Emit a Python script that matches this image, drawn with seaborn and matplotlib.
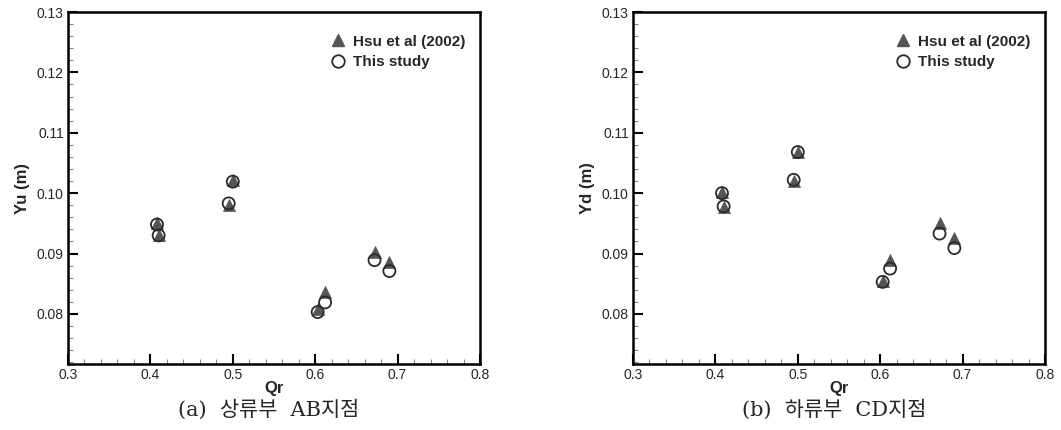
import numpy as np
import pandas as pd
import matplotlib
matplotlib.use("Agg")
import matplotlib.pyplot as plt
import seaborn as sns
from matplotlib.ticker import MultipleLocator, FormatStrFormatter
from matplotlib.lines import Line2D

# Qr values for the 8 runs
qr = [0.408, 0.410, 0.495, 0.500, 0.603, 0.612, 0.672, 0.690]

# (a) upstream AB
yu_hsu = [0.0950, 0.0930, 0.0980, 0.1022, 0.0808, 0.0837, 0.0903, 0.0886]
yu_this = [0.0948, 0.0930, 0.0983, 0.1019, 0.0803, 0.0819, 0.0889, 0.0871]

# (b) downstream CD
yd_hsu = [0.1002, 0.0977, 0.1020, 0.1068, 0.0855, 0.0890, 0.0950, 0.0925]
yd_this = [0.1000, 0.0978, 0.1022, 0.1068, 0.0853, 0.0875, 0.0933, 0.0909]

panels = [("Yu (m)", yu_hsu, yu_this, "(a)  상류부  AB지점"),
          ("Yd (m)", yd_hsu, yd_this, "(b)  하류부  CD지점")]

sns.set_style("ticks")
plt.rcParams['font.family'] = ['Liberation Sans', 'DejaVu Sans']

fig = plt.figure(figsize=(10.61, 4.30), dpi=100)
lefts = [68 / 1061, 633 / 1061]
bottom = (430 - 364) / 430
height = 352 / 430
width = 412 / 1061

tri_col = "#555555"
circ_col = "#2a2a2a"

for i, (ylab, hsu, this, cap) in enumerate(panels):
    ax = fig.add_axes([lefts[i], bottom, width, height])
    df = pd.DataFrame({"Qr": qr, "hsu": hsu, "this": this})
    sns.scatterplot(data=df, x="Qr", y="hsu", marker="^", s=75, color=tri_col,
                    edgecolor=tri_col, linewidth=0.5, ax=ax, zorder=3)
    sns.scatterplot(data=df, x="Qr", y="this", marker="o", s=75, facecolor="none",
                    edgecolor=circ_col, linewidth=1.3, ax=ax, zorder=4)
    ax.set_xlim(0.3, 0.8)
    ax.set_ylim(0.0717, 0.13)
    ax.xaxis.set_major_locator(MultipleLocator(0.1))
    ax.xaxis.set_minor_locator(MultipleLocator(0.02))
    ax.yaxis.set_major_locator(MultipleLocator(0.01))
    ax.yaxis.set_minor_locator(MultipleLocator(0.002))
    ax.xaxis.set_major_formatter(FormatStrFormatter('%.1f'))
    ax.yaxis.set_major_formatter(FormatStrFormatter('%.2f'))
    ax.set_yticks([0.08, 0.09, 0.10, 0.11, 0.12, 0.13])
    ax.tick_params(which='major', direction='in', length=7, width=1.5,
                   labelsize=10, color='black', pad=3)
    ax.tick_params(which='minor', direction='in', length=3.5, width=0.8,
                   color='#888888')
    for sp in ax.spines.values():
        sp.set_visible(True)
        sp.set_linewidth(1.8)
        sp.set_color('black')
    ax.set_xlabel("Qr", fontsize=12, fontweight='bold', labelpad=-1)
    ax.set_ylabel(ylab, fontsize=12, fontweight='bold', labelpad=5)

    handles = [Line2D([], [], marker='^', ls='none', color=tri_col, markersize=9),
               Line2D([], [], marker='o', ls='none', markerfacecolor='none',
                      markeredgecolor=circ_col, markeredgewidth=1.3, markersize=9)]
    ax.legend(handles, ["Hsu et al (2002)", "This study"], loc='upper left',
              bbox_to_anchor=(0.595, 0.975), frameon=False, handletextpad=0.3,
              handlelength=1.4, labelspacing=0.45,
              prop={'weight': 'bold', 'size': 11, 'family': ['Liberation Sans']})

    fig.text(lefts[i] + width / 2 - 0.005, 20 / 430, cap, ha='center', va='center',
             fontsize=15, family=['DejaVu Serif', 'Noto Sans CJK KR'])

fig.savefig("out.png", dpi=100)
